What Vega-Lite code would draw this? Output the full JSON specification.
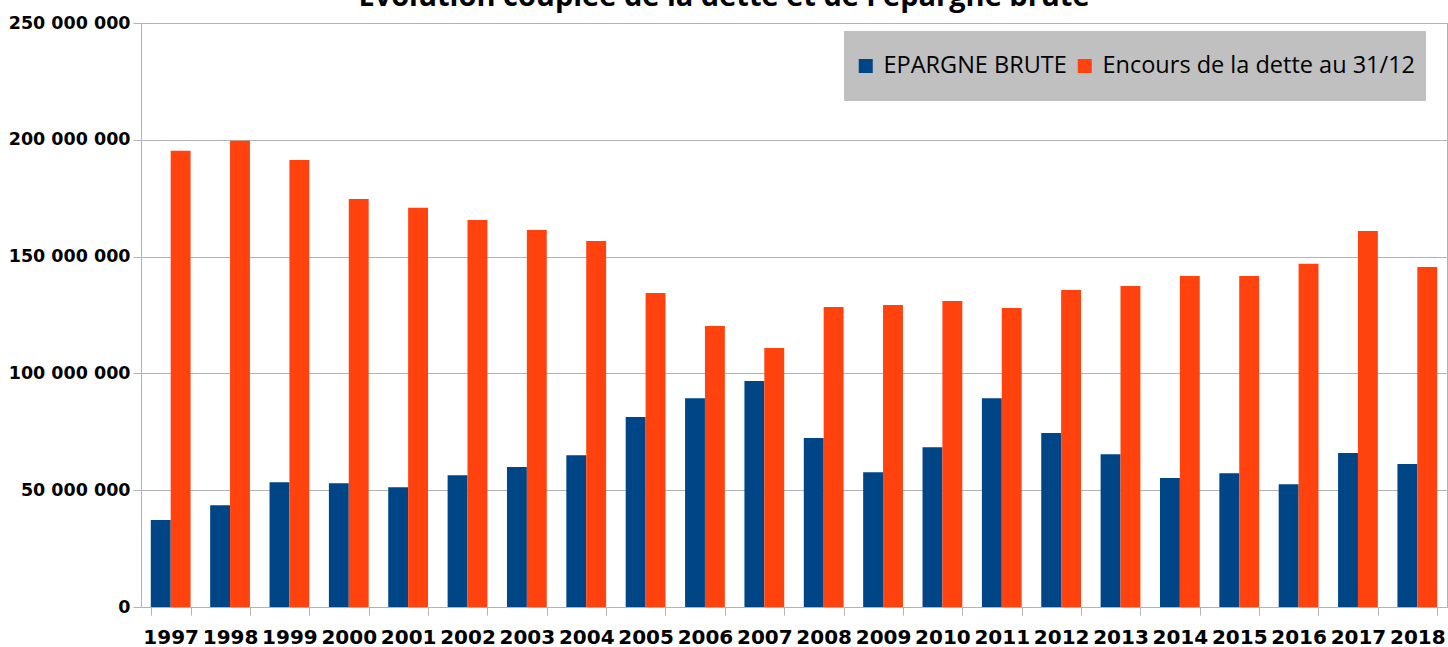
{
  "$schema": "https://vega.github.io/schema/vega-lite/v6.json",
  "width": 1306,
  "height": 584,
  "autosize": {"type": "none"},
  "padding": {"left": 141, "top": 23, "right": 1, "bottom": 40},
  "background": "white",
  "title": {
    "text": "Evolution couplée de la dette et de l'épargne brute",
    "font": "Open Sans",
    "fontSize": 29,
    "fontWeight": "bold",
    "color": "black",
    "anchor": "middle",
    "dx": -70,
    "offset": 2
  },
  "config": {
    "view": {"stroke": "#b3b3b3"},
    "locale": {"number": {"decimal": ",", "thousands": " ", "grouping": [3], "currency": ["", ""]}}
  },
  "data": {
    "values": [
      {"annee": "1997", "serie": "EPARGNE BRUTE", "valeur": 37200000},
      {"annee": "1997", "serie": "Encours de la dette au 31/12", "valeur": 195300000},
      {"annee": "1998", "serie": "EPARGNE BRUTE", "valeur": 43600000},
      {"annee": "1998", "serie": "Encours de la dette au 31/12", "valeur": 199600000},
      {"annee": "1999", "serie": "EPARGNE BRUTE", "valeur": 53400000},
      {"annee": "1999", "serie": "Encours de la dette au 31/12", "valeur": 191400000},
      {"annee": "2000", "serie": "EPARGNE BRUTE", "valeur": 53000000},
      {"annee": "2000", "serie": "Encours de la dette au 31/12", "valeur": 174700000},
      {"annee": "2001", "serie": "EPARGNE BRUTE", "valeur": 51300000},
      {"annee": "2001", "serie": "Encours de la dette au 31/12", "valeur": 170900000},
      {"annee": "2002", "serie": "EPARGNE BRUTE", "valeur": 56400000},
      {"annee": "2002", "serie": "Encours de la dette au 31/12", "valeur": 165700000},
      {"annee": "2003", "serie": "EPARGNE BRUTE", "valeur": 59900000},
      {"annee": "2003", "serie": "Encours de la dette au 31/12", "valeur": 161400000},
      {"annee": "2004", "serie": "EPARGNE BRUTE", "valeur": 65000000},
      {"annee": "2004", "serie": "Encours de la dette au 31/12", "valeur": 156700000},
      {"annee": "2005", "serie": "EPARGNE BRUTE", "valeur": 81300000},
      {"annee": "2005", "serie": "Encours de la dette au 31/12", "valeur": 134400000},
      {"annee": "2006", "serie": "EPARGNE BRUTE", "valeur": 89400000},
      {"annee": "2006", "serie": "Encours de la dette au 31/12", "valeur": 120300000},
      {"annee": "2007", "serie": "EPARGNE BRUTE", "valeur": 96700000},
      {"annee": "2007", "serie": "Encours de la dette au 31/12", "valeur": 110900000},
      {"annee": "2008", "serie": "EPARGNE BRUTE", "valeur": 72300000},
      {"annee": "2008", "serie": "Encours de la dette au 31/12", "valeur": 128400000},
      {"annee": "2009", "serie": "EPARGNE BRUTE", "valeur": 57700000},
      {"annee": "2009", "serie": "Encours de la dette au 31/12", "valeur": 129300000},
      {"annee": "2010", "serie": "EPARGNE BRUTE", "valeur": 68400000},
      {"annee": "2010", "serie": "Encours de la dette au 31/12", "valeur": 131000000},
      {"annee": "2011", "serie": "EPARGNE BRUTE", "valeur": 89400000},
      {"annee": "2011", "serie": "Encours de la dette au 31/12", "valeur": 128000000},
      {"annee": "2012", "serie": "EPARGNE BRUTE", "valeur": 74500000},
      {"annee": "2012", "serie": "Encours de la dette au 31/12", "valeur": 135700000},
      {"annee": "2013", "serie": "EPARGNE BRUTE", "valeur": 65400000},
      {"annee": "2013", "serie": "Encours de la dette au 31/12", "valeur": 137400000},
      {"annee": "2014", "serie": "EPARGNE BRUTE", "valeur": 55200000},
      {"annee": "2014", "serie": "Encours de la dette au 31/12", "valeur": 141700000},
      {"annee": "2015", "serie": "EPARGNE BRUTE", "valeur": 57300000},
      {"annee": "2015", "serie": "Encours de la dette au 31/12", "valeur": 141700000},
      {"annee": "2016", "serie": "EPARGNE BRUTE", "valeur": 52600000},
      {"annee": "2016", "serie": "Encours de la dette au 31/12", "valeur": 146900000},
      {"annee": "2017", "serie": "EPARGNE BRUTE", "valeur": 65900000},
      {"annee": "2017", "serie": "Encours de la dette au 31/12", "valeur": 161000000},
      {"annee": "2018", "serie": "EPARGNE BRUTE", "valeur": 61200000},
      {"annee": "2018", "serie": "Encours de la dette au 31/12", "valeur": 145600000}
    ]
  },
  "mark": {"type": "bar"},
  "encoding": {
    "x": {
      "field": "annee",
      "type": "nominal",
      "scale": {"paddingInner": 0.33, "paddingOuter": 0.165},
      "axis": {
        "title": null,
        "labelAngle": 0,
        "labelFont": "DejaVu Sans",
        "labelFontWeight": "bold",
        "labelFontSize": 20,
        "labelColor": "black",
        "tickBand": "extent",
        "tickSize": 8,
        "tickColor": "#b3b3b3",
        "domainColor": "#b3b3b3",
        "labelPadding": 12,
        "grid": false
      }
    },
    "xOffset": {
      "field": "serie",
      "type": "nominal",
      "sort": ["EPARGNE BRUTE", "Encours de la dette au 31/12"],
      "scale": {"paddingInner": 0, "paddingOuter": 0}
    },
    "y": {
      "field": "valeur",
      "type": "quantitative",
      "scale": {"domain": [0, 250000000], "nice": false},
      "axis": {
        "title": null,
        "values": [0, 50000000, 100000000, 150000000, 200000000, 250000000],
        "format": ",d",
        "labelFont": "DejaVu Sans",
        "labelFontWeight": "bold",
        "labelFontSize": 17.5,
        "labelColor": "black",
        "tickSize": 8,
        "labelPadding": 3,
        "tickColor": "#b3b3b3",
        "domainColor": "#b3b3b3",
        "gridColor": "#b3b3b3",
        "grid": true
      }
    },
    "color": {
      "field": "serie",
      "type": "nominal",
      "scale": {
        "domain": ["EPARGNE BRUTE", "Encours de la dette au 31/12"],
        "range": ["#004586", "#ff420e"]
      },
      "legend": {
        "title": null,
        "orient": "none",
        "legendX": 703,
        "legendY": 8,
        "direction": "horizontal",
        "fillColor": "#c0c0c0",
        "padding": 10,
        "clipHeight": 50,
        "symbolType": "square",
        "symbolSize": 196,
        "symbolStrokeWidth": 0,
        "labelFont": "Open Sans",
        "labelFontSize": 23.5,
        "labelColor": "black",
        "labelLimit": 500,
        "labelOffset": 6,
        "columnPadding": 6
      }
    }
  }
}
